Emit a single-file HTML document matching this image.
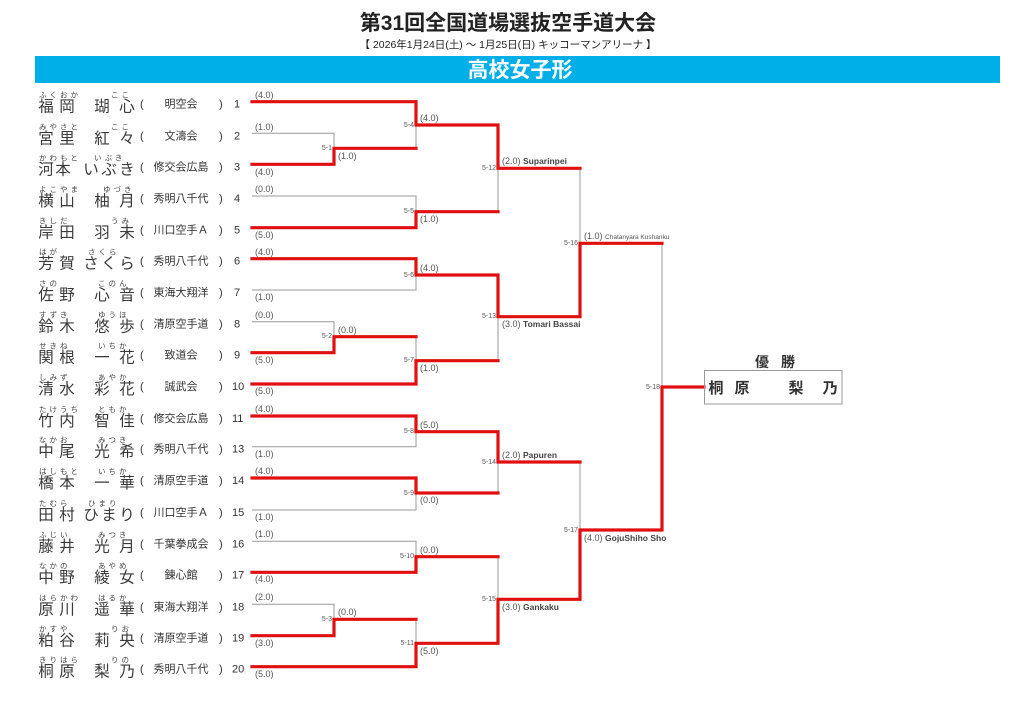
<!DOCTYPE html>
<html><head><meta charset="utf-8"><style>
html,body{margin:0;padding:0;background:#fff;}
svg{display:block;font-family:"Liberation Sans","Noto Sans CJK JP",sans-serif;}
.r{stroke:#e01010;stroke-width:3.2;fill:none;stroke-linecap:square}
.g{stroke:#9a9a9a;stroke-width:1;fill:none}
.n{font-size:15.5px;fill:#3a3a3a;text-anchor:middle}
.f{font-size:7.5px;fill:#444;letter-spacing:3px}
.c{font-size:11px;fill:#333}
.s{font-size:9px;fill:#555}
.m{font-size:7px;fill:#555;text-anchor:end}
.k{font-size:8.5px;fill:#444}
</style></head><body>
<svg width="1024" height="724" viewBox="0 0 1024 724" xmlns="http://www.w3.org/2000/svg">
<text x="508" y="30" text-anchor="middle" style="font-size:21px;font-weight:bold;fill:#222">第31回全国道場選抜空手道大会</text>
<text x="508" y="48" text-anchor="middle" style="font-size:10.5px;fill:#222">【 2026年1月24日(土) ～ 1月25日(日)  キッコーマンアリーナ 】</text>
<rect x="35" y="56" width="965" height="27" fill="#00aee8"/>
<text x="520" y="77" text-anchor="middle" style="font-size:21px;font-weight:bold;fill:#fff">高校女子形</text>

<g class="g">
<path d="M252 133.3H334V148.3"/>
<path d="M416 125V148.3"/>
<path d="M252 196H416V211.7"/>
<path d="M498 168.3V211.7"/>
<path d="M252 290H416V275"/>
<path d="M580 168.3V243.3"/>
<path d="M252 321.7H334V336.7"/>
<path d="M416 336.7V360.7"/>
<path d="M498 316.7V360.7"/>
<path d="M662 243.3V387"/>
<path d="M252 446.7H416V431.7"/>
<path d="M498 462V493"/>
<path d="M252 510H416V493"/>
<path d="M580 462V530"/>
<path d="M252 541.3H416V556.7"/>
<path d="M498 556.7V599.3"/>
<path d="M252 604.3H334V619.3"/>
<path d="M416 619.3V643.3"/>
</g>
<g class="r">
<path d="M252 101.7H416V125H498V168.3H580"/>
<path d="M252 164.3H334V148.3H416"/>
<path d="M252 227.7H416V211.7H498"/>
<path d="M252 258.7H416V275H498V316.7H580V243.3H662"/>
<path d="M252 352.7H334V336.7H416"/>
<path d="M252 384H416V360.7H498"/>
<path d="M252 416H416V431.7H498V462H580"/>
<path d="M252 478H416V493H498"/>
<path d="M252 572.3H416V556.7H498"/>
<path d="M252 635.7H334V619.3H416"/>
<path d="M252 666.7H416V643.3H498V599.3H580V530H662V387H704"/>
</g>

<g>
<g transform="translate(0,101.7)"><text class="f" x="39" y="-4">ふくおか</text><text class="f" x="111" y="-4">ここ</text><text class="n" x="46" y="10">福</text><text class="n" x="67" y="10">岡</text><text class="n" x="102" y="10">瑚</text><text class="n" x="127" y="10">心</text><text class="c" x="140" y="6">(</text><text class="c" x="181" y="6" text-anchor="middle">明空会</text><text class="c" x="219" y="6">)</text><text class="c" x="234" y="6">1</text></g>
<g transform="translate(0,133.3)"><text class="f" x="39" y="-4">みやさと</text><text class="f" x="111" y="-4">ここ</text><text class="n" x="46" y="10">宮</text><text class="n" x="67" y="10">里</text><text class="n" x="102" y="10">紅</text><text class="n" x="127" y="10">々</text><text class="c" x="140" y="6">(</text><text class="c" x="181" y="6" text-anchor="middle">文濤会</text><text class="c" x="219" y="6">)</text><text class="c" x="234" y="6">2</text></g>
<g transform="translate(0,164.3)"><text class="f" x="39" y="-4">かわもと</text><text class="f" x="94" y="-4">いぶき</text><text class="n" x="46" y="10">河</text><text class="n" x="63" y="10">本</text><text class="n" x="91" y="10">い</text><text class="n" x="109" y="10">ぶ</text><text class="n" x="127" y="10">き</text><text class="c" x="140" y="6">(</text><text class="c" x="181" y="6" text-anchor="middle">修交会広島</text><text class="c" x="219" y="6">)</text><text class="c" x="234" y="6">3</text></g>
<g transform="translate(0,196)"><text class="f" x="39" y="-4">よこやま</text><text class="f" x="103" y="-4">ゆづき</text><text class="n" x="46" y="10">横</text><text class="n" x="67" y="10">山</text><text class="n" x="102" y="10">柚</text><text class="n" x="127" y="10">月</text><text class="c" x="140" y="6">(</text><text class="c" x="181" y="6" text-anchor="middle">秀明八千代</text><text class="c" x="219" y="6">)</text><text class="c" x="234" y="6">4</text></g>
<g transform="translate(0,227.7)"><text class="f" x="39" y="-4">きしだ</text><text class="f" x="111" y="-4">うみ</text><text class="n" x="46" y="10">岸</text><text class="n" x="67" y="10">田</text><text class="n" x="102" y="10">羽</text><text class="n" x="127" y="10">未</text><text class="c" x="140" y="6">(</text><text class="c" x="181" y="6" text-anchor="middle">川口空手Ａ</text><text class="c" x="219" y="6">)</text><text class="c" x="234" y="6">5</text></g>
<g transform="translate(0,258.7)"><text class="f" x="39" y="-4">はが</text><text class="f" x="88" y="-4">さくら</text><text class="n" x="46" y="10">芳</text><text class="n" x="67" y="10">賀</text><text class="n" x="91" y="10">さ</text><text class="n" x="109" y="10">く</text><text class="n" x="127" y="10">ら</text><text class="c" x="140" y="6">(</text><text class="c" x="181" y="6" text-anchor="middle">秀明八千代</text><text class="c" x="219" y="6">)</text><text class="c" x="234" y="6">6</text></g>
<g transform="translate(0,290)"><text class="f" x="39" y="-4">さの</text><text class="f" x="98" y="-4">このん</text><text class="n" x="46" y="10">佐</text><text class="n" x="67" y="10">野</text><text class="n" x="102" y="10">心</text><text class="n" x="127" y="10">音</text><text class="c" x="140" y="6">(</text><text class="c" x="181" y="6" text-anchor="middle">東海大翔洋</text><text class="c" x="219" y="6">)</text><text class="c" x="234" y="6">7</text></g>
<g transform="translate(0,321.7)"><text class="f" x="39" y="-4">すずき</text><text class="f" x="98" y="-4">ゆうほ</text><text class="n" x="46" y="10">鈴</text><text class="n" x="67" y="10">木</text><text class="n" x="102" y="10">悠</text><text class="n" x="127" y="10">歩</text><text class="c" x="140" y="6">(</text><text class="c" x="181" y="6" text-anchor="middle">清原空手道</text><text class="c" x="219" y="6">)</text><text class="c" x="234" y="6">8</text></g>
<g transform="translate(0,352.7)"><text class="f" x="39" y="-4">せきね</text><text class="f" x="98" y="-4">いちか</text><text class="n" x="46" y="10">関</text><text class="n" x="67" y="10">根</text><text class="n" x="102" y="10">一</text><text class="n" x="127" y="10">花</text><text class="c" x="140" y="6">(</text><text class="c" x="181" y="6" text-anchor="middle">致道会</text><text class="c" x="219" y="6">)</text><text class="c" x="234" y="6">9</text></g>
<g transform="translate(0,384)"><text class="f" x="39" y="-4">しみず</text><text class="f" x="98" y="-4">あやか</text><text class="n" x="46" y="10">清</text><text class="n" x="67" y="10">水</text><text class="n" x="102" y="10">彩</text><text class="n" x="127" y="10">花</text><text class="c" x="140" y="6">(</text><text class="c" x="181" y="6" text-anchor="middle">誠武会</text><text class="c" x="219" y="6">)</text><text class="c" x="232" y="6">10</text></g>
<g transform="translate(0,416)"><text class="f" x="39" y="-4">たけうち</text><text class="f" x="98" y="-4">ともか</text><text class="n" x="46" y="10">竹</text><text class="n" x="67" y="10">内</text><text class="n" x="102" y="10">智</text><text class="n" x="127" y="10">佳</text><text class="c" x="140" y="6">(</text><text class="c" x="181" y="6" text-anchor="middle">修交会広島</text><text class="c" x="219" y="6">)</text><text class="c" x="232" y="6">11</text></g>
<g transform="translate(0,446.7)"><text class="f" x="39" y="-4">なかお</text><text class="f" x="98" y="-4">みつき</text><text class="n" x="46" y="10">中</text><text class="n" x="67" y="10">尾</text><text class="n" x="102" y="10">光</text><text class="n" x="127" y="10">希</text><text class="c" x="140" y="6">(</text><text class="c" x="181" y="6" text-anchor="middle">秀明八千代</text><text class="c" x="219" y="6">)</text><text class="c" x="232" y="6">13</text></g>
<g transform="translate(0,478)"><text class="f" x="39" y="-4">はしもと</text><text class="f" x="98" y="-4">いちか</text><text class="n" x="46" y="10">橋</text><text class="n" x="67" y="10">本</text><text class="n" x="102" y="10">一</text><text class="n" x="127" y="10">華</text><text class="c" x="140" y="6">(</text><text class="c" x="181" y="6" text-anchor="middle">清原空手道</text><text class="c" x="219" y="6">)</text><text class="c" x="232" y="6">14</text></g>
<g transform="translate(0,510)"><text class="f" x="39" y="-4">たむら</text><text class="f" x="88" y="-4">ひまり</text><text class="n" x="46" y="10">田</text><text class="n" x="67" y="10">村</text><text class="n" x="91" y="10">ひ</text><text class="n" x="109" y="10">ま</text><text class="n" x="127" y="10">り</text><text class="c" x="140" y="6">(</text><text class="c" x="181" y="6" text-anchor="middle">川口空手Ａ</text><text class="c" x="219" y="6">)</text><text class="c" x="232" y="6">15</text></g>
<g transform="translate(0,541.3)"><text class="f" x="39" y="-4">ふじい</text><text class="f" x="98" y="-4">みつき</text><text class="n" x="46" y="10">藤</text><text class="n" x="67" y="10">井</text><text class="n" x="102" y="10">光</text><text class="n" x="127" y="10">月</text><text class="c" x="140" y="6">(</text><text class="c" x="181" y="6" text-anchor="middle">千葉拳成会</text><text class="c" x="219" y="6">)</text><text class="c" x="232" y="6">16</text></g>
<g transform="translate(0,572.3)"><text class="f" x="39" y="-4">なかの</text><text class="f" x="98" y="-4">あやめ</text><text class="n" x="46" y="10">中</text><text class="n" x="67" y="10">野</text><text class="n" x="102" y="10">綾</text><text class="n" x="127" y="10">女</text><text class="c" x="140" y="6">(</text><text class="c" x="181" y="6" text-anchor="middle">錬心館</text><text class="c" x="219" y="6">)</text><text class="c" x="232" y="6">17</text></g>
<g transform="translate(0,604.3)"><text class="f" x="39" y="-4">はらかわ</text><text class="f" x="98" y="-4">はるか</text><text class="n" x="46" y="10">原</text><text class="n" x="67" y="10">川</text><text class="n" x="102" y="10">遥</text><text class="n" x="127" y="10">華</text><text class="c" x="140" y="6">(</text><text class="c" x="181" y="6" text-anchor="middle">東海大翔洋</text><text class="c" x="219" y="6">)</text><text class="c" x="232" y="6">18</text></g>
<g transform="translate(0,635.7)"><text class="f" x="39" y="-4">かすや</text><text class="f" x="111" y="-4">りお</text><text class="n" x="46" y="10">粕</text><text class="n" x="67" y="10">谷</text><text class="n" x="102" y="10">莉</text><text class="n" x="127" y="10">央</text><text class="c" x="140" y="6">(</text><text class="c" x="181" y="6" text-anchor="middle">清原空手道</text><text class="c" x="219" y="6">)</text><text class="c" x="232" y="6">19</text></g>
<g transform="translate(0,666.7)"><text class="f" x="39" y="-4">きりはら</text><text class="f" x="111" y="-4">りの</text><text class="n" x="46" y="10">桐</text><text class="n" x="67" y="10">原</text><text class="n" x="102" y="10">梨</text><text class="n" x="127" y="10">乃</text><text class="c" x="140" y="6">(</text><text class="c" x="181" y="6" text-anchor="middle">秀明八千代</text><text class="c" x="219" y="6">)</text><text class="c" x="232" y="6">20</text></g>
</g>

<g class="s">
<text x="255" y="98">(4.0)</text>
<text x="255" y="130">(1.0)</text>
<text x="255" y="175">(4.0)</text>
<text x="255" y="192">(0.0)</text>
<text x="255" y="238">(5.0)</text>
<text x="255" y="255">(4.0)</text>
<text x="255" y="300">(1.0)</text>
<text x="255" y="318">(0.0)</text>
<text x="255" y="363">(5.0)</text>
<text x="255" y="394">(5.0)</text>
<text x="255" y="412">(4.0)</text>
<text x="255" y="457">(1.0)</text>
<text x="255" y="474">(4.0)</text>
<text x="255" y="520">(1.0)</text>
<text x="255" y="537">(1.0)</text>
<text x="255" y="582">(4.0)</text>
<text x="255" y="600">(2.0)</text>
<text x="255" y="646">(3.0)</text>
<text x="255" y="677">(5.0)</text>
<text x="338" y="159">(1.0)</text>
<text x="338" y="333">(0.0)</text>
<text x="338" y="615">(0.0)</text>
<text x="420" y="121">(4.0)</text>
<text x="420" y="222">(1.0)</text>
<text x="420" y="271">(4.0)</text>
<text x="420" y="371">(1.0)</text>
<text x="420" y="428">(5.0)</text>
<text x="420" y="503">(0.0)</text>
<text x="420" y="553">(0.0)</text>
<text x="420" y="654">(5.0)</text>
<text x="502" y="164">(2.0)  <tspan class="k" style="font-weight:bold">Suparinpei</tspan></text>
<text x="502" y="327">(3.0)  <tspan class="k" style="font-weight:bold">Tomari Bassai</tspan></text>
<text x="502" y="458">(2.0)  <tspan class="k" style="font-weight:bold">Papuren</tspan></text>
<text x="502" y="610">(3.0)  <tspan class="k" style="font-weight:bold">Gankaku</tspan></text>
<text x="584" y="239">(1.0) <tspan style="font-size:6.5px">Chatanyara Kushanku</tspan></text>
<text x="584" y="541">(4.0)  <tspan class="k" style="font-weight:bold">GojuShiho Sho</tspan></text>
</g>

<g class="m">
<text x="332" y="150">5-1</text>
<text x="332" y="338">5-2</text>
<text x="332" y="621">5-3</text>
<text x="414" y="127">5-4</text>
<text x="414" y="213">5-5</text>
<text x="414" y="277">5-6</text>
<text x="414" y="362">5-7</text>
<text x="414" y="433">5-8</text>
<text x="414" y="495">5-9</text>
<text x="414" y="558">5-10</text>
<text x="414" y="645">5-11</text>
<text x="496" y="170">5-12</text>
<text x="496" y="318">5-13</text>
<text x="496" y="464">5-14</text>
<text x="496" y="601">5-15</text>
<text x="578" y="245">5-16</text>
<text x="578" y="532">5-17</text>
<text x="660" y="389">5-18</text>
</g>

<text x="762" y="367" text-anchor="middle" style="font-size:14px;font-weight:bold;fill:#333">優</text>
<text x="788" y="367" text-anchor="middle" style="font-size:14px;font-weight:bold;fill:#333">勝</text>
<rect x="704.5" y="370.5" width="137.5" height="33.5" fill="none" stroke="#999" stroke-width="1"/>
<g style="font-size:15px;font-weight:bold;fill:#333" text-anchor="middle">
<text x="716" y="393">桐</text><text x="742" y="393">原</text><text x="796" y="393">梨</text><text x="830" y="393">乃</text>
</g>
</svg>
</body></html>
